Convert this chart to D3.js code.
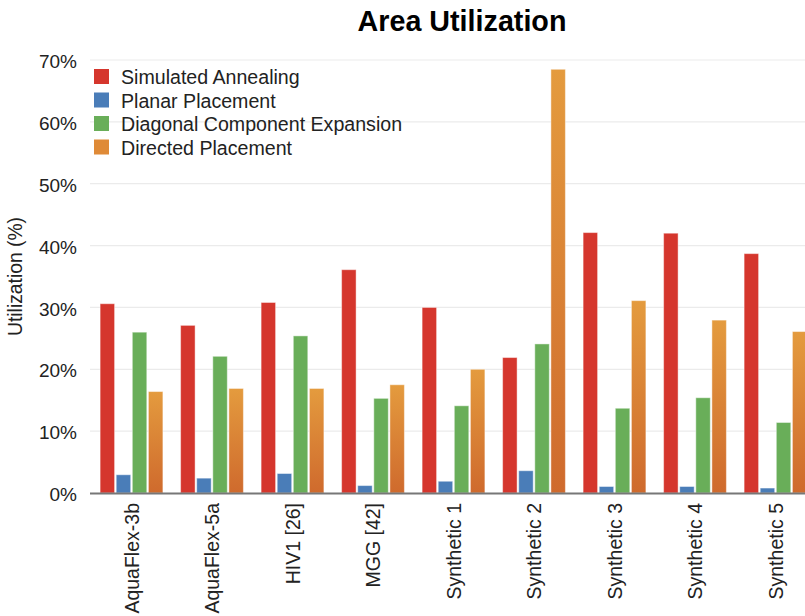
<!DOCTYPE html>
<html><head><meta charset="utf-8">
<script src="https://cdn.jsdelivr.net/npm/d3@7/dist/d3.min.js"></script>
<style>body{margin:0;background:#fff}svg{display:block;font-family:"Liberation Sans",Arial,Helvetica,sans-serif}</style>
</head><body><svg id="c" width="805" height="616"></svg>
<script>
const categories = ["AquaFlex-3b","AquaFlex-5a","HIV1 [26]","MGG [42]","Synthetic 1","Synthetic 2","Synthetic 3","Synthetic 4","Synthetic 5"];
const seriesNames = ["Simulated Annealing","Planar Placement","Diagonal Component Expansion","Directed Placement"];
const simulatedAnnealing = [30.6,27.1,30.8,36.1,30.0,21.9,42.1,42.0,38.7];
const planarPlacement = [2.95,2.4,3.15,1.2,1.9,3.6,1.05,1.05,0.8];
const diagonalExpansion = [26.0,22.1,25.4,15.3,14.1,24.1,13.7,15.4,11.4];
const directedPlacement = [16.4,16.9,16.9,17.5,20.0,68.5,31.1,27.95,26.1];
const yTicks = [0,10,20,30,40,50,60,70];
const colors = ["#d5362d","#4a7db8","#69ae59","url(#og)"];
const legendColors = ["#d5362d","#4a7db8","#69ae59","#df8a37"];

const series = [simulatedAnnealing, planarPlacement, diagonalExpansion, directedPlacement];
const svg = d3.select("#c");
const defs = svg.append("defs");
const g1 = defs.append("linearGradient").attr("id","og").attr("x1",0).attr("y1",0).attr("x2",0).attr("y2",1);
g1.append("stop").attr("offset","0%").attr("stop-color","#e49b3e");
g1.append("stop").attr("offset","100%").attr("stop-color","#cf6a2d");

const plotTop = 60, plotBottom = 493;
const y = d3.scaleLinear().domain([0,70]).range([plotBottom, plotTop]);
const x0 = d3.scaleBand().domain(categories).range([91.25, 815.75]).paddingInner(0.18).paddingOuter(0.09);
const x1 = d3.scaleBand().domain(d3.range(4)).range([0, x0.bandwidth()]).padding(0.1);

// gridlines
svg.append("g").selectAll("line").data(yTicks.slice(1)).join("line")
  .attr("x1",90).attr("x2",805).attr("y1",d=>y(d)).attr("y2",d=>y(d))
  .attr("stroke","#ebebeb").attr("stroke-width",1.2);

// y tick labels
svg.append("g").selectAll("text").data(yTicks).join("text")
  .attr("x",77).attr("y",d=>y(d)+1.5).attr("dy","0.35em").attr("text-anchor","end")
  .attr("font-size",19).attr("fill","#222").text(d=>d+"%");

// bars
const groups = svg.append("g").selectAll("g").data(categories).join("g")
  .attr("transform",d=>`translate(${x0(d)},0)`);
groups.selectAll("rect").data((d,i)=>series.map((s,k)=>({k,v:s[i]}))).join("rect")
  .attr("x",d=>x1(d.k)).attr("width",x1.bandwidth())
  .attr("y",d=>y(d.v)).attr("height",d=>plotBottom-y(d.v))
  .attr("fill",d=>colors[d.k])
  .attr("stroke","rgba(255,255,255,0.45)").attr("stroke-width",1);

// x axis line
svg.append("line").attr("x1",90).attr("x2",805).attr("y1",plotBottom+0.5).attr("y2",plotBottom+0.5)
  .attr("stroke","#777").attr("stroke-width",2);

// x labels
svg.append("g").selectAll("text").data(categories).join("text")
  .attr("transform",d=>`translate(${x0(d)+x0.bandwidth()/2+7},503) rotate(-90)`)
  .attr("text-anchor","end").attr("font-size",19.5).attr("fill","#222").text(d=>d);

// y axis title
svg.append("text").attr("transform","translate(22,276.5) rotate(-90)")
  .attr("text-anchor","middle").attr("font-size",19.3).attr("fill","#222").text("Utilization (%)");

// title
svg.append("text").attr("x",462).attr("y",31).attr("text-anchor","middle")
  .attr("font-size",28.7).attr("font-weight","bold").attr("fill","#000").text("Area Utilization");

// legend
const lg = svg.append("g").selectAll("g").data(seriesNames).join("g")
  .attr("transform",(d,i)=>`translate(94,${84+i*23.5})`);
lg.append("rect").attr("x",0).attr("y",-15).attr("width",15).attr("height",15).attr("fill",(d,i)=>legendColors[i]);
lg.append("text").attr("x",27).attr("y",0).attr("font-size",19.6).attr("fill","#222").text(d=>d);
</script></body></html>
